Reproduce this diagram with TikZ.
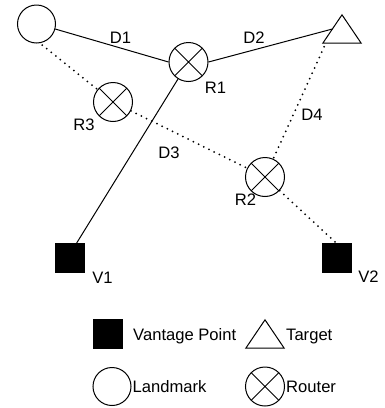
\documentclass[tikz,border=0pt]{standalone}
\usepackage{fontspec}
\setmainfont{Liberation Sans}
\usetikzlibrary{calc}
\begin{document}
\begin{tikzpicture}[x=1pt,y=-1pt,
  every node/.style={font=\fontsize{16.6}{19}\selectfont},
  lm/.style={draw, circle, minimum size=38pt, inner sep=0pt, line width=1pt},
  router/.style={draw, circle, minimum size=39pt, inner sep=0pt, line width=1pt,
    path picture={\draw[line width=1pt] (path picture bounding box.north west) -- (path picture bounding box.south east)
      (path picture bounding box.north east) -- (path picture bounding box.south west);}},
  vp/.style={draw, fill=black, rectangle, minimum size=29pt, inner sep=0pt},
  tgt/.style={rectangle, minimum width=38pt, minimum height=28pt, inner sep=0pt},
  tri/.style={line width=1pt, line join=miter},
  lbl/.style={inner sep=0pt},
  solidline/.style={line width=1pt},
  dotline/.style={line width=2pt, dash pattern=on 0pt off 5.8pt, line cap=round}
]
\fill[white] (0,0) rectangle (385,408);
\useasboundingbox (0,0) rectangle (385,408);

% main nodes
\node[lm] (L) at (36.5,24) {};
\node[router] (R1) at (188.5,62) {};
\node[router] (R3) at (113,102) {};
\node[router] (R2) at (265,177) {};
\node[tgt] (T) at (342,29) {};
\draw[tri] (T.north) -- (T.south east) -- (T.south west) -- cycle;
\node[vp] (V1) at (69.5,258) {};
\node[vp] (V2) at (336.5,258) {};

% connectors
\draw[solidline] (L.-15) -- (R1.west);
\draw[solidline] (R1.east) -- ($(T.north)!0.5!(T.south west)$);
\draw[solidline] ([xshift=7pt]V1.north) -- (R1);
\draw[dotline, shorten <=3pt] (L.-80) -- (R3);
\draw[dotline] (R3) -- (R2);
\draw[dotline] (R2) -- (V2.north);
\draw[dotline, shorten <=4pt] ([xshift=3pt]T.south west) -- (R2);

% labels
\node[lbl] (lD1) at (120.5,37.5) {D1};
\node[lbl] (lD2) at (254,38) {D2};
\node[lbl] (lR1) at (215.5,88) {R1};
\node[lbl] (lR3) at (84,125) {R3};
\node[lbl] (lD4) at (312,115) {D4};
\node[lbl] (lD3) at (169,153) {D3};
\node[lbl] (lR2) at (245.5,199.5) {R2};
\node[lbl] (lV1) at (102.5,278) {V1};
\node[lbl] (lV2) at (368.5,277) {V2};

% legend
\node[vp] (kV) at (107.5,334) {};
\node[lbl, anchor=base west] (kVt) at (133,340) {Vantage Point};
\node[tgt] (kT) at (265,334) {};
\draw[tri] (kT.north) -- (kT.south east) -- (kT.south west) -- cycle;
\node[lbl, anchor=base west] (kTt) at (286,340) {Target};
\node[lm] (kL) at (112,386.5) {};
\node[lbl, anchor=base west] (kLt) at (132.5,392.5) {Landmark};
\node[router] (kR) at (265,386.5) {};
\node[lbl, anchor=base west] (kRt) at (286,392.5) {Router};
\end{tikzpicture}
\end{document}
